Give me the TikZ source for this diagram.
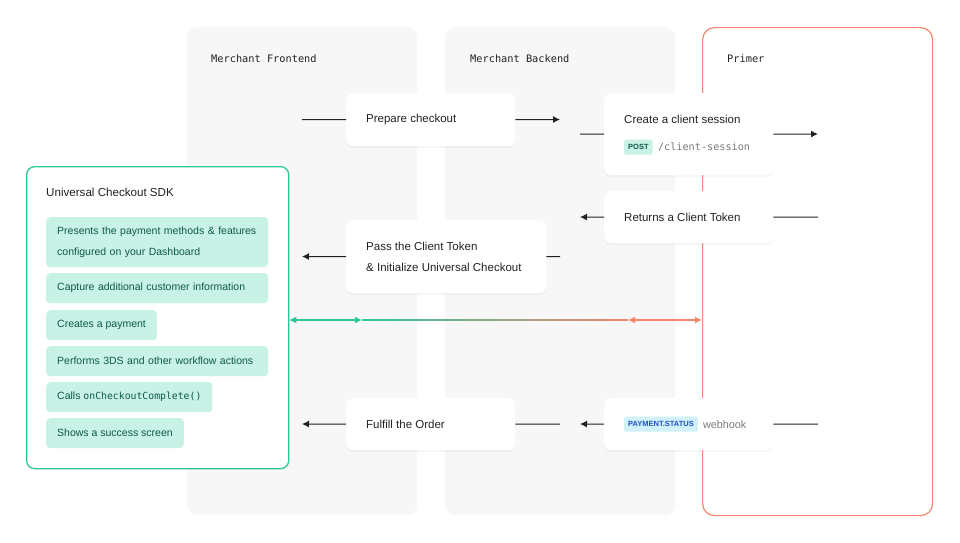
\documentclass[tikz,border=0pt]{standalone}
\usepackage{fontspec}
\setmainfont{Liberation Sans}
\setmonofont{DejaVu Sans Mono}
\usetikzlibrary{arrows.meta,shadows,positioning}

\definecolor{columngray}{HTML}{F7F7F7}
\definecolor{primerred}{HTML}{F4856F}
\definecolor{sdkgreen}{HTML}{2BC79A}
\definecolor{mint}{HTML}{C8F2E6}
\definecolor{minttext}{HTML}{0E5A45}
\definecolor{ink}{HTML}{222222}
\definecolor{badgeblue}{HTML}{CFF1F7}
\definecolor{badgetext}{HTML}{2351C9}
\definecolor{mutedgray}{HTML}{7A7A7A}

\tikzset{
  column/.style={rounded corners=10pt, fill=columngray, anchor=north west, minimum width=230, minimum height=488, inner sep=0pt},
  coltitle/.style={anchor=west, inner sep=0pt, font=\ttfamily\fontsize{10.3}{12}\selectfont, text=ink},
  card/.style={fill=white, rounded corners=7pt, anchor=north west, inner sep=0pt,
    drop shadow={shadow xshift=0pt, shadow yshift=-2pt, opacity=0.07}},
  cardtext/.style={anchor=west, inner sep=0pt, align=left, text=ink, font=\fontsize{11.5}{21}\selectfont},
  item/.style={fill=mint, rounded corners=4pt, anchor=north west, inner xsep=11pt, inner ysep=0pt,
    minimum height=30, align=left, text=minttext, font=\fontsize{10.5}{21}\selectfont},
  wideitem/.style={item, text width=200},
  badge/.style={rounded corners=2pt, anchor=west, inner xsep=4pt, inner ysep=0pt, minimum height=15,
    font=\bfseries\fontsize{7.5}{9}\selectfont},
  link/.style={draw=ink, line width=1pt},
  flow/.style={link, -{Latex[length=7pt,width=7pt]}},
  sync/.style={line width=1.2pt, {Latex[length=7pt,width=7pt]}-{Latex[length=7pt,width=7pt]}}
}

\begin{document}
\begin{tikzpicture}[x=1pt, y=-1pt]
  \useasboundingbox[fill=white] (0,0) rectangle (960,542);

  %Spalten
  \node[column] (front) at (187,27) {};
  \node[column] (back) at (445,27) {};
  \node[column, fill=white, draw=primerred, line width=1.2pt, rounded corners=12pt] (primer) at (702,27) {};
  \node[coltitle] at (211,59) {Merchant Frontend};
  \node[coltitle] at (470,59) {Merchant Backend};
  \node[coltitle] at (727,59) {Primer};

  %SDK
  \node[draw=sdkgreen, line width=1.3pt, fill=white, rounded corners=8pt, anchor=north west,
        minimum width=262, minimum height=302, inner sep=0pt] (sdk) at (26,166) {};
  \node[cardtext, font=\fontsize{11.6}{14}\selectfont] (sdktitle) at (46,192) {Universal Checkout SDK};
  \node[wideitem, minimum height=50] (present) at (46,217) {Presents the payment methods \& features\\configured on your Dashboard};
  \node[wideitem] (capture) at (46,273) {Capture additional customer information};
  \node[item] (payment) at (46,310) {Creates a payment};
  \node[wideitem] (threeds) at (46,346) {Performs 3DS and other workflow actions};
  \node[item] (calls) at (46,382) {Calls \texttt{\fontsize{9.8}{12}\selectfont onCheckoutComplete()}};
  \node[item] (success) at (46,418) {Shows a success screen};

  %Karten
  \node[card, minimum width=169, minimum height=53] (prep) at (346,93) {};
  \node[card, minimum width=169, minimum height=82] (session) at (604,93) {};
  \node[card, minimum width=169, minimum height=52] (token) at (604,191) {};
  \node[card, minimum width=200, minimum height=73] (pass) at (346,220) {};
  \node[card, minimum width=169, minimum height=52] (fulfill) at (346,398) {};
  \node[card, minimum width=169, minimum height=52] (hook) at (604,398) {};

  \node[cardtext] at ([xshift=20pt]prep.west) {Prepare checkout};
  \node[cardtext] at ([xshift=20pt, yshift=15pt]session.west) {Create a client session};
  \node[badge, fill=mint, text=minttext] (post) at ([xshift=20pt, yshift=-13pt]session.west) {POST};
  \node[anchor=west, inner sep=0pt, right=5pt of post, text=mutedgray, font=\ttfamily\fontsize{10.2}{12}\selectfont] {/client-session};
  \node[cardtext] at ([xshift=20pt]token.west) {Returns a Client Token};
  \node[cardtext] at ([xshift=20pt]pass.west) {Pass the Client Token\\\& Initialize Universal Checkout};
  \node[cardtext] at ([xshift=20pt]fulfill.west) {Fulfill the Order};
  \node[badge, fill=badgeblue, text=badgetext] (status) at ([xshift=20pt]hook.west) {PAYMENT.STATUS};
  \node[anchor=west, inner sep=0pt, right=5pt of status, text=mutedgray, font=\fontsize{10.8}{12}\selectfont] {webhook};

  %Pfeile
  \coordinate (a1) at (302,119.5);  \coordinate (b1) at (560,119.5);
  \coordinate (a2) at (580,134);    \coordinate (b2) at (818,134);
  \coordinate (a3) at (818,217);    \coordinate (b3) at (580,217);
  \coordinate (a4) at (560,256.5);  \coordinate (b4) at (302,256.5);
  \coordinate (a5) at (818,424);    \coordinate (b5) at (580,424);
  \coordinate (c5) at (560,424);    \coordinate (d5) at (302,424);

  \draw[link] (a1) -- (prep.west);
  \draw[flow] (prep.east) -- (b1);
  \draw[link] (a2) -- (session.west);
  \draw[flow] (session.east) -- (b2);
  \draw[link] (a3) -- (token.east);
  \draw[flow] (token.west) -- (b3);
  \draw[link] (a4) -- (pass.east);
  \draw[flow] (pass.west) -- (b4);
  \draw[link] (a5) -- (hook.east);
  \draw[flow] (hook.west) -- (b5);
  \draw[link] (c5) -- (fulfill.east);
  \draw[flow] (fulfill.west) -- (d5);

  %Synchron
  \coordinate (g1) at (362,320);
  \coordinate (r1) at (628,320);
  \shade[left color=sdkgreen, middle color=gray!55, right color=primerred] (362,319.4) rectangle (628,320.6);
  \draw[sync, sdkgreen] (sdk.east |- g1) -- (g1);
  \draw[sync, primerred] (r1) -- (primer.west |- r1);
\end{tikzpicture}
\end{document}
